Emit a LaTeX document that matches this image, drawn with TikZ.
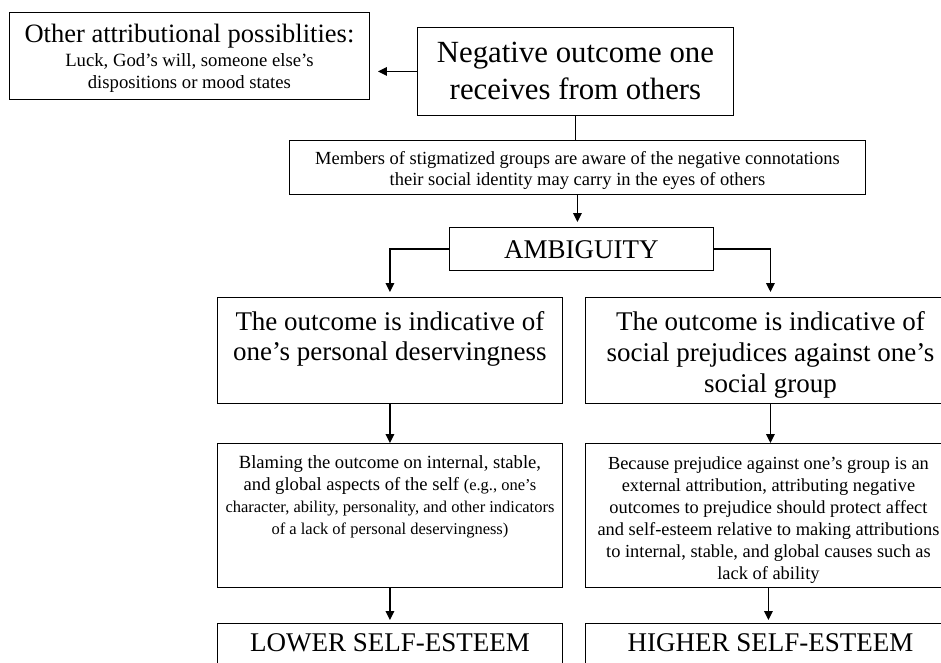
\documentclass[tikz,border=0pt]{standalone}
\usepackage{fontspec}
\setmainfont{Liberation Serif}
\usetikzlibrary{arrows.meta}
\newcommand\bxc[4]{\parbox[c][#2][t]{#1}{\centering\vspace*{#3}#4\par}}
\newcommand\fs[2]{\fontsize{#1}{#2}\selectfont}
\begin{document}
\begin{tikzpicture}[x=1pt,y=-1pt,
  bx/.style={draw, line width=0.9pt, inner sep=0pt, anchor=north west},
  arr/.style={line width=1.6pt, -{Triangle[length=9pt,width=8.5pt]}},
  ln/.style={line width=1.6pt}]
\useasboundingbox (0,0) rectangle (941,662);
\clip (0,0) rectangle (941,662);
\fill[white] (0,0) rectangle (941,662);

\node[bx] (other) at (9,12) {\bxc{360pt}{87pt}{12pt}{\fs{26.5}{28}Other attributional possiblities:\par\vspace{2.5pt}\fs{18.7}{21.5}Luck, God’s will, someone else’s\\ dispositions or mood states}};

\node[bx] (neg) at (417,27) {\bxc{316pt}{88pt}{15pt}{\fs{30.8}{36.5}Negative outcome one\\ receives from others}};

\node[bx] (mem) at (289,140) {\bxc{576pt}{54pt}{11.5pt}{\fs{18.5}{21}Members of stigmatized groups are aware of the negative connotations\\ their social identity may carry in the eyes of others}};

\node[bx] (amb) at (449,227) {\bxc{264pt}{43pt}{13pt}{\fs{27}{30}AMBIGUITY}};

\node[bx] (pl) at (217,297) {\bxc{345pt}{106pt}{14pt}{\fs{27}{30}The outcome is indicative of\\ one’s personal deservingness}};

\node[bx] (pr) at (585,297) {\bxc{370pt}{106pt}{14pt}{\fs{27}{31}The outcome is indicative of\\ social prejudices against one’s\\ social group}};

\node[bx] (bl) at (217,443) {\bxc{345pt}{144pt}{12.5pt}{\fs{18.6}{22}Blaming the outcome on internal, stable,\\ and global aspects of the self {\fs{16.5}{22}(e.g., one’s}\\ {\fs{16.5}{22}character, ability, personality, and other indicators\\ of a lack of personal deservingness)}}};

\node[bx] (br) at (585,443) {\bxc{366pt}{144pt}{13pt}{\fs{18.4}{22}Because prejudice against one’s group is an\\ external attribution, attributing negative\\ outcomes to prejudice should protect affect\\ and self-esteem relative to making attributions\\ to internal, stable, and global causes such as\\ lack of ability}};

\node[bx] (ll) at (217,623) {\bxc{345pt}{60pt}{10.5pt}{\fs{27}{32}LOWER SELF-ESTEEM}};

\node[bx] (hr) at (585,623) {\bxc{370pt}{60pt}{10.5pt}{\fs{27}{32}HIGHER SELF-ESTEEM}};

\draw[arr, shorten >=8pt] (neg.west) -- (neg.west -| other.east);
\draw[ln] (neg.south) -- (neg.south |- mem.north);
\draw[arr, shorten >=5pt] (mem.south) -- (mem.south |- amb.north);
\draw[arr, shorten >=5pt] (amb.west) -| (pl.north);
\draw[arr, shorten >=5pt] (amb.east) -| (pr.north);
\draw[arr] (pl.south) -- (bl.north);
\draw[arr] (pr.south) -- (pr.south |- br.north);
\draw[arr, shorten >=3pt] (bl.south) -- (ll.north);
\draw[arr, shorten >=3pt] (br.south) -- (br.south |- hr.north);
\end{tikzpicture}
\end{document}
